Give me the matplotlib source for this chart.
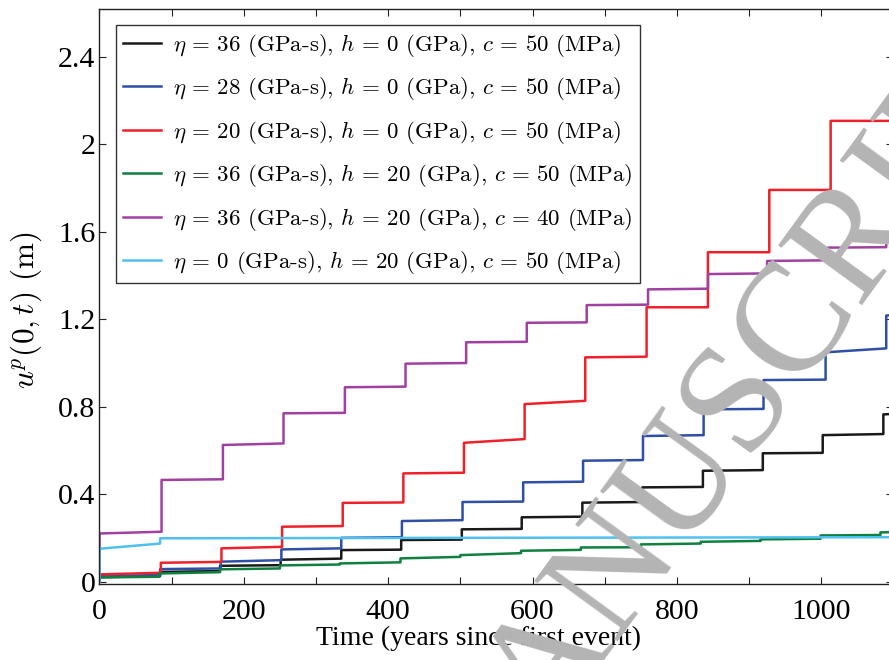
import numpy as np
import matplotlib.pyplot as plt

plt.rcParams['mathtext.fontset'] = 'cm'
plt.rcParams['axes.unicode_minus'] = False

# ---------------- DATA ----------------
# each series: event times, value right after each jump, value just before next jump
black_t = [0, 84, 167, 251, 335, 418, 502, 585, 669, 752, 836, 919, 1002, 1086]
black_start = [0.020, 0.044, 0.072, 0.100, 0.144, 0.190, 0.239, 0.294, 0.361, 0.431, 0.507, 0.587, 0.670, 0.765]
black_end = [0.025, 0.048, 0.075, 0.105, 0.146, 0.192, 0.241, 0.297, 0.364, 0.433, 0.510, 0.589, 0.675, 0.767]

blue_t = [0, 84, 168, 252, 335, 419, 503, 587, 670, 753, 837, 920, 1006, 1090]
blue_start = [0.025, 0.057, 0.091, 0.147, 0.200, 0.277, 0.364, 0.454, 0.553, 0.666, 0.788, 0.922, 1.049, 1.217]
blue_end = [0.030, 0.060, 0.098, 0.152, 0.203, 0.281, 0.366, 0.457, 0.556, 0.670, 0.790, 0.924, 1.067, 1.220]

red_t = [0, 85, 169, 253, 337, 421, 505, 589, 673, 758, 843, 928, 1013]
red_start = [0.033, 0.086, 0.152, 0.251, 0.360, 0.495, 0.635, 0.812, 1.026, 1.255, 1.507, 1.792, 2.108]
red_end = [0.040, 0.090, 0.159, 0.254, 0.362, 0.498, 0.652, 0.827, 1.029, 1.255, 1.507, 1.792, 2.108]

green_t = [0, 83, 167, 250, 333, 417, 500, 584, 667, 750, 833, 916, 999, 1082]
green_start = [0.019, 0.037, 0.056, 0.074, 0.083, 0.106, 0.121, 0.141, 0.156, 0.170, 0.182, 0.193, 0.211, 0.225]
green_end = [0.022, 0.043, 0.060, 0.078, 0.088, 0.113, 0.130, 0.145, 0.157, 0.174, 0.186, 0.196, 0.213, 0.226]

purple_t = [0, 86, 171, 255, 340, 424, 508, 592, 675, 760, 843, 925, 1009, 1090]
purple_start = [0.220, 0.465, 0.625, 0.770, 0.889, 0.997, 1.095, 1.184, 1.265, 1.337, 1.407, 1.467, 1.528, 1.578]
purple_end = [0.228, 0.468, 0.632, 0.772, 0.892, 1.000, 1.097, 1.186, 1.267, 1.340, 1.410, 1.470, 1.530, 1.580]

cyan_t = [0, 84]
cyan_start = [0.150, 0.198]
cyan_end = [0.174, 0.203]

labels = [
    r'$\eta\,=\,36$ (GPa-s), $h\,=\,0$ (GPa), $c\,=\,50$ (MPa)',
    r'$\eta\,=\,28$ (GPa-s), $h\,=\,0$ (GPa), $c\,=\,50$ (MPa)',
    r'$\eta\,=\,20$ (GPa-s), $h\,=\,0$ (GPa), $c\,=\,50$ (MPa)',
    r'$\eta\,=\,36$ (GPa-s), $h\,=\,20$ (GPa), $c\,=\,50$ (MPa)',
    r'$\eta\,=\,36$ (GPa-s), $h\,=\,20$ (GPa), $c\,=\,40$ (MPa)',
    r'$\eta\,=\,0$ (GPa-s), $h\,=\,20$ (GPa), $c\,=\,50$ (MPa)',
]
colors = ['#1a1a1a', '#2f4fa6', '#f0202a', '#108040', '#a040a0', '#50c0f0']

xmax = 1100
x_ticks = np.arange(0, 1101, 100)
x_labels = ['0', '', '200', '', '400', '', '600', '', '800', '', '1000', '']
y_ticks = [0, 0.4, 0.8, 1.2, 1.6, 2.0, 2.4]
y_labels = ['0', '0.4', '0.8', '1.2', '1.6', '2', '2.4']


def step_path(t, start, end):
    # start at zero, jump at each event, creep slightly until next event
    xs, ys = [0], [0]
    nxt = list(t[1:]) + [xmax]
    for t0, t1, a, b in zip(t, nxt, start, end):
        xs += [t0, t1]
        ys += [a, b]
    return xs, ys


series = [
    (black_t, black_start, black_end),
    (blue_t, blue_start, blue_end),
    (red_t, red_start, red_end),
    (green_t, green_start, green_end),
    (purple_t, purple_start, purple_end),
    (cyan_t, cyan_start, cyan_end),
]

fig = plt.figure(figsize=(8.89, 6.6), dpi=100)
ax = fig.add_axes([0.1119, 0.1152, 0.8931, 0.8712])

for (t, s, e), col, lab in zip(series, colors, labels):
    xs, ys = step_path(t, s, e)
    ax.plot(xs, ys, color=col, linewidth=1.8, label=lab)

ax.set_xlim(0, xmax)
ax.set_ylim(-0.011, 2.62)

serif = 'Liberation Serif'
ax.set_xticks(x_ticks)
ax.set_xticklabels(x_labels, family=serif, fontsize=21.5)
ax.set_yticks(y_ticks)
ax.set_yticklabels(y_labels, family=serif, fontsize=21.5)
ax.tick_params(direction='in', length=5, width=0.8, top=True, right=True, color='#222222')
ax.tick_params(axis='x', pad=11)
ax.tick_params(axis='y', pad=3)
for sp in ax.spines.values():
    sp.set_linewidth(1.0)
    sp.set_color('#222222')

ax.set_xlabel('Time (years since first event)', family=serif, fontsize=20)
ax.xaxis.set_label_coords(0.477, -0.072)
ax.set_ylabel(r'$u^p(0,t)$ (m)', family='cmr10', fontsize=22.5)
ax.yaxis.set_label_coords(-0.070, 0.476)

leg = ax.legend(loc='upper left', bbox_to_anchor=(0.021, 0.972), borderaxespad=0,
                prop={'family': 'cmr10', 'size': 16.5}, frameon=True, fancybox=False,
                edgecolor='black', handlelength=1.66, handletextpad=0.53,
                labelspacing=0.72, borderpad=0.3)
leg.get_frame().set_linewidth(1.0)

# journal watermark
fig.text(0.545, -0.152, 'ACCEPTED MANUSCRIPT', family=serif, fontsize=112,
         color='#b4b4b4', rotation=54, rotation_mode='anchor',
         ha='center', va='center', zorder=10)

fig.savefig('out.png', dpi=100)
